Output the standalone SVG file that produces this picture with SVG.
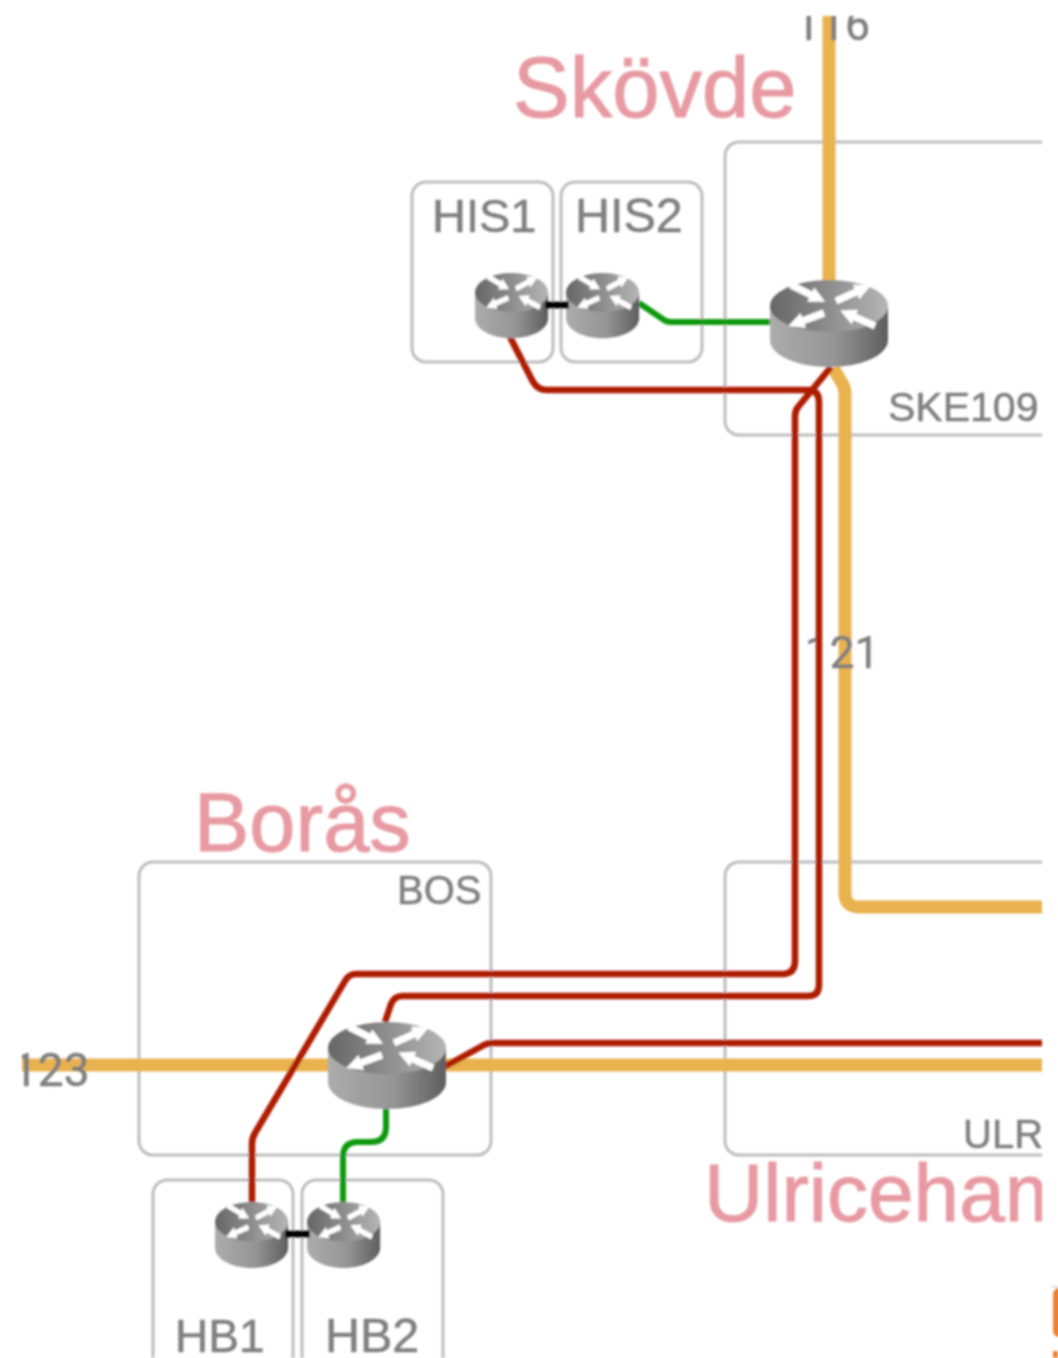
<svg xmlns="http://www.w3.org/2000/svg" xmlns:xlink="http://www.w3.org/1999/xlink" width="1058" height="1358" viewBox="0 0 1058 1358">
<style>
text{font-family:"Liberation Sans",Arial,sans-serif}
.box{fill:none;stroke:#bdbdbd;stroke-width:3}
.city{fill:#e89aa2;font-size:85px;stroke:#e89aa2;stroke-width:1}
.lab{fill:#7f7f7f;font-size:42px;stroke:#7f7f7f;stroke-width:.5}
.num{font-family:Roboto,"Liberation Sans",sans-serif}
.c{fill:none;stroke-linejoin:round}
.o{stroke:#e9b24f;stroke-width:13}
.r{stroke:#ae1a00;stroke-width:6.5}
.g{stroke:#0a9a0a;stroke-width:6}
.k{stroke:#000;stroke-width:7}
</style>
<defs>
<clipPath id="clip"><rect x="22" y="16" width="1020" height="1342"/></clipPath>
<filter id="soft" x="0" y="0" width="1058" height="1358" filterUnits="userSpaceOnUse"><feGaussianBlur stdDeviation="0.8"/></filter>
<linearGradient id="body" x1="0" x2="1" y1="0" y2="0"><stop offset="0" stop-color="#acacac"/><stop offset="0.55" stop-color="#959595"/><stop offset="1" stop-color="#5e5e5e"/></linearGradient>
<linearGradient id="top" x1="0" x2="1" y1="0" y2="0"><stop offset="0" stop-color="#666"/><stop offset="1" stop-color="#b5b5b5"/></linearGradient>
<polygon id="arr" points="0,-4.500 22,-4.500 22,-10 38,0 22,10 22,4.500 0,4.500" fill="#fff"/>
<g id="router">
<path d="M0,26V60C0,75 26,87 59,87S118,75 118,60V26Z" fill="url(#body)"/>
<ellipse cx="59" cy="26" rx="59" ry="26" fill="url(#top)"/>
<use xlink:href="#arr" href="#arr" transform="translate(21,5) rotate(26) scale(1,.8)"/>
<use xlink:href="#arr" href="#arr" transform="translate(66,21) rotate(-24) scale(1,.8)"/>
<use xlink:href="#arr" href="#arr" transform="translate(54,33) rotate(160) scale(1,.8)"/>
<use xlink:href="#arr" href="#arr" transform="translate(105,46) rotate(204) scale(1,.8)"/>
</g>
</defs>
<g filter="url(#soft)">
<g clip-path="url(#clip)">
<g id="box-ske"><rect class="box" x="725" y="142" width="400" height="293" rx="14"/><text class="lab" x="888" y="421" style="font-size:41px">SKE109</text></g>
<g id="box-his1"><rect class="box" x="412" y="182" width="141" height="180" rx="14"/><text class="lab" x="432" y="232" style="font-size:47px">HIS1</text></g>
<g id="box-his2"><rect class="box" x="561" y="182" width="141" height="180" rx="14"/><text class="lab" x="575" y="232" style="font-size:48.5px">HIS2</text></g>
<g id="box-bos"><rect class="box" x="139" y="862" width="352" height="293" rx="14"/><text class="lab" x="397" y="904" style="font-size:40px">BOS</text></g>
<g id="box-ulr"><rect class="box" x="725" y="862" width="400" height="293" rx="14"/><text class="lab" x="963" y="1148" style="font-size:40px">ULR</text></g>
<g id="box-hb1"><rect class="box" x="153" y="1180" width="140" height="200" rx="14"/><text class="lab" x="175" y="1352" style="font-size:46px">HB1</text></g>
<g id="box-hb2"><rect class="box" x="302" y="1180" width="141" height="200" rx="14"/><text class="lab" x="325" y="1352" style="font-size:48.5px">HB2</text></g>
<g id="connectors-orange">
<path class="c o" d="M829,16V285"/>
<path class="c o" d="M833,368L842,383Q845,388 845,394V893Q845,907 859,907H1042"/>
<path class="c o" d="M22,1065H332"/>
<path class="c o" d="M442,1065H1042"/>
</g>
<g id="link-labels">
<text class="lab num" x="795" y="40" style="font-size:44.500px">116</text>
<text class="lab num" x="805" y="668" style="font-size:44px">121</text>
<text class="lab num" x="12" y="1086" style="font-size:46px">123</text>
</g>
<g id="connectors">
<path class="c r" d="M510,337L532,380Q537,390 547,390H808Q819,390 819,402V985Q819,996 808,996H403Q394,996 391,1004L385,1022"/>
<path class="c r" d="M831,367L798,407Q795,411 795,416V961Q795,974 782,974H356Q349,974 345,981L255,1133Q252,1138 252,1144V1204"/>
<path class="c r" d="M444,1067L484,1045Q488,1043 493,1043H1042"/>
<path class="c g" d="M639,303L664,320Q667,322 671,322H773"/>
<path class="c g" d="M386,1108V1127Q386,1142 371,1142H358Q343,1142 343,1157V1205"/>
</g>
<g id="router-ske109"><use xlink:href="#router" href="#router" transform="translate(770,280)"/></g>
<g id="router-his1"><use xlink:href="#router" href="#router" transform="translate(475,273) scale(.62,.75)"/></g>
<g id="router-his2"><use xlink:href="#router" href="#router" transform="translate(566,273) scale(.62,.75)"/></g>
<g id="router-bos"><use xlink:href="#router" href="#router" transform="translate(328,1022)"/></g>
<g id="router-hb1"><use xlink:href="#router" href="#router" transform="translate(215,1202) scale(.62,.76)"/></g>
<g id="router-hb2"><use xlink:href="#router" href="#router" transform="translate(307,1202) scale(.62,.76)"/></g>
<g id="connectors-black">
<path class="c k" d="M545,305H569"/>
<path class="c k" d="M285,1234H310"/>
</g>
<g id="cities">
<text class="city" x="513" y="117">Skövde</text>
<text class="city" x="194" y="851" style="font-size:83px">Borås</text>
<text class="city" x="704" y="1221" style="font-size:82px">Ulriceham</text>
</g>
</g>
<g id="edge-right">
<rect x="1052" y="1286" width="6" height="1" fill="#bbb"/>
<rect x="1053" y="1288" width="12" height="49" rx="6" fill="#ed8030"/>
<rect x="1053" y="1351" width="5" height="7" fill="#ed8030"/>
</g>
</g>
</svg>
